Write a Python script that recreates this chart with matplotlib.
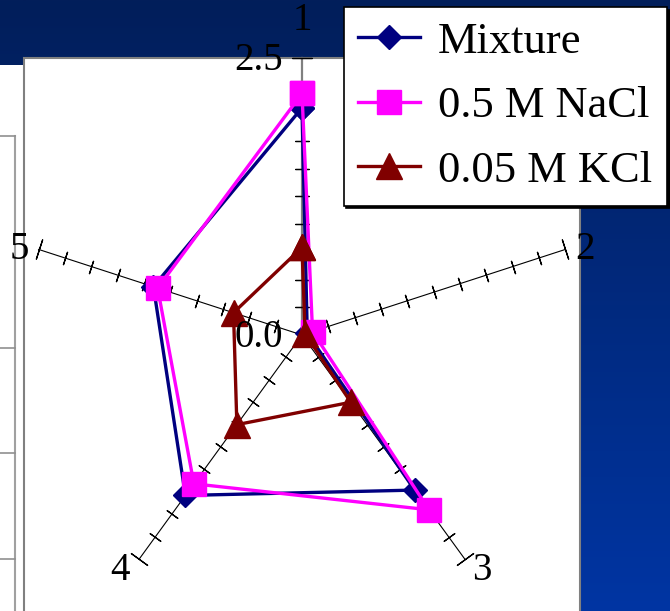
import numpy as np
import matplotlib
matplotlib.use("Agg")
import matplotlib.pyplot as plt
from matplotlib.patches import Rectangle
from matplotlib.colors import LinearSegmentedColormap

plt.rcParams['font.family'] = ['Liberation Serif', 'DejaVu Serif']

# radar data, one value per spoke (spokes 1..5 clockwise from top)
axis_names = ['1', '2', '3', '4', '5']
mixture = [2.05, 0.05, 1.73, 1.79, 1.41]
nacl = [2.18, 0.10, 1.95, 1.66, 1.37]
kcl = [0.79, 0.03, 0.75, 1.00, 0.65]
series_names = ['Mixture', '0.5 M NaCl', '0.05 M KCl']
rmax = 2.5
tick_step = 0.25

W, H = 670, 611
fig = plt.figure(figsize=(W / 100, H / 100), dpi=100)

# slide background + white chart area, in pixel units
bg = fig.add_axes([0, 0, 1, 1])
bg.set_xlim(0, W)
bg.set_ylim(H, 0)
bg.axis('off')
cmap = LinearSegmentedColormap.from_list('slide', ['#021e5a', '#0035a3'])
bg.imshow(np.linspace(0, 1, 256)[:, None], extent=[0, W, H, 0],
          cmap=cmap, aspect='auto')
bg.add_patch(Rectangle((0, 65), 23, H, fc='white', ec='none'))
bg.plot([15, 15], [136, H], color='#a0a0a0', lw=1.5)
for y in [136, 348, 453, 559]:
    bg.plot([0, 15], [y, y], color='#909090', lw=1.2)
bg.add_patch(Rectangle((24, 57.5), 556, H, fc='white', ec='#808080', lw=1.5))
bg.set_xlim(0, W)
bg.set_ylim(H, 0)

# polar axes centred on the radar
cx, cy, R = 302, 335, 277
ax = fig.add_axes([(cx - R) / W, (H - cy - R) / H, 2 * R / W, 2 * R / H],
                  projection='polar')
ax.set_theta_zero_location('N')
ax.set_theta_direction(-1)
ax.set_ylim(0, rmax)
ax.set_axis_off()

n = len(axis_names)
theta = np.arange(n) * 2 * np.pi / n
ticks = np.arange(tick_step, rmax + 1e-9, tick_step)

for i, t in enumerate(theta):
    deg = np.degrees(t)
    if i == 0:
        ax.plot([t, t], [0, rmax], color='#808080', lw=1.6, clip_on=False)
    else:
        ax.plot([t, t], [0, rmax], color='k', lw=0.8, clip_on=False)
    ax.plot(np.full(len(ticks) - 1, t), ticks[:-1], ls='none',
            marker=(2, 2, 90 - deg), ms=10, mec='k', mew=0.9, clip_on=False)
    ax.plot([t], [rmax], ls='none', marker=(2, 2, 90 - deg), ms=15,
            mec='k', mew=0.9, clip_on=False)

# category labels sit just beyond the end of each spoke
lab_off = [(0, 27), (14, 0), (12, -8), (-13.5, -8), (-14, 0)]
for t, name, off in zip(theta, axis_names, lab_off):
    ax.annotate(name, xy=(t, rmax), xytext=off, textcoords='offset points',
                ha='center', va='center', fontsize=28)

for v in [0.0, rmax]:
    ax.annotate(f'{v:.1f}', xy=(0, v), xytext=(-14, -1.5),
                textcoords='offset points', ha='right', va='center',
                fontsize=28)

tc = np.append(theta, theta[0])
styles = [('#000080', 'D', 12.5), ('#ff00ff', 's', 17), ('#800000', '^', 19)]
for vals, name, (col, mk, ms) in zip([mixture, nacl, kcl], series_names, styles):
    ax.plot(tc, vals + vals[:1], color=col, lw=2.4, marker=mk, ms=ms,
            mfc=col, mec=col, label=name, clip_on=False)

leg = ax.legend(loc='upper right', bbox_to_anchor=(667 / W, 1 - 7 / H),
                bbox_transform=fig.transFigure, borderaxespad=0,
                fontsize=32, frameon=True, fancybox=False, edgecolor='k',
                framealpha=1, shadow={'color': 'k', 'alpha': 1},
                handlelength=1.4, handletextpad=0.4, labelspacing=0.55,
                borderpad=0.33)
leg.get_frame().set_linewidth(1.2)

fig.savefig('out.png', dpi=100)
